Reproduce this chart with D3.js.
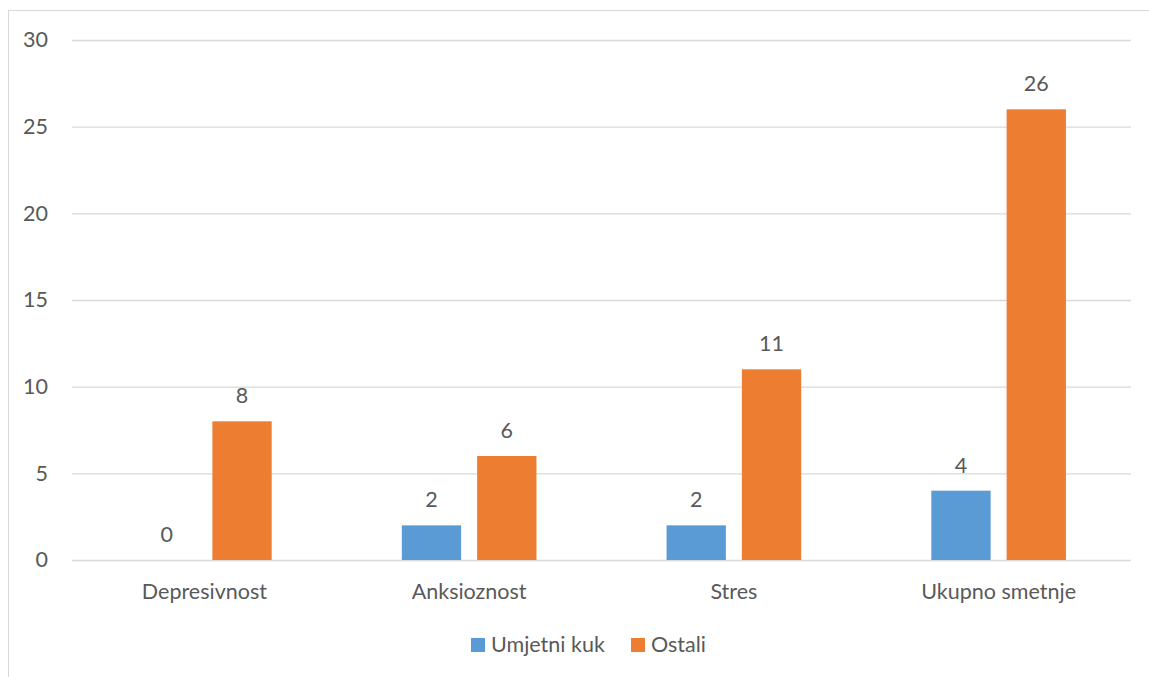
<!DOCTYPE html>
<html><head><meta charset="utf-8">
<script src="https://cdn.jsdelivr.net/npm/d3@7"></script>
<style>
html,body{margin:0;padding:0;background:#fff;}
svg text{font-family:Lato,"Open Sans",sans-serif;fill:#595959;}
</style></head>
<body><svg id="c" width="1149" height="677"></svg>
<script>
const categories = ["Depresivnost","Anksioznost","Stres","Ukupno smetnje"];
const seriesNames = ["Umjetni kuk","Ostali"];
const umjetniKuk = [0,2,2,4];
const ostali = [8,6,11,26];
const yTicks = [0,5,10,15,20,25,30];
const colors = ["#5B9BD5","#ED7D31"];

const svg = d3.select("#c");
const fs = 21.5;
svg.append("rect").attr("x",8.5).attr("y",10.5).attr("width",1160).attr("height",700)
  .attr("fill","none").attr("stroke","#D9D9D9");

const x0 = d3.scaleBand().domain(categories).range([72,1131]).paddingInner(0).paddingOuter(0);
const x1 = d3.scaleBand().domain(seriesNames).range([0,x0.bandwidth()]).paddingInner(0.2125).paddingOuter(0.864);
const y = d3.scaleLinear().domain([0,30]).range([560,40]);

const yAxis = d3.axisLeft(y).tickValues(yTicks).tickSize(-(1131-72)).tickPadding(24);
const gy = svg.append("g").attr("transform","translate(72,0)").call(yAxis);
gy.select(".domain").remove();
gy.selectAll(".tick line").attr("stroke","#D9D9D9").attr("stroke-width",1.3);
gy.selectAll(".tick text").attr("font-size",fs).attr("fill","#595959").attr("font-family","Lato");

const xAxis = d3.axisBottom(x0).tickSize(0).tickPadding(24);
const gx = svg.append("g").attr("transform","translate(0,560)").call(xAxis);
gx.select(".domain").remove();
gx.selectAll(".tick text").attr("font-size",fs).attr("fill","#595959").attr("font-family","Lato");

const data = categories.map((c,i)=>({cat:c, vals:[umjetniKuk[i], ostali[i]]}));
const groups = svg.append("g").selectAll("g").data(data).join("g")
  .attr("transform",d=>`translate(${x0(d.cat)},0)`);
groups.selectAll("rect").data(d=>d.vals.map((v,j)=>({s:seriesNames[j],v,j}))).join("rect")
  .attr("x",d=>x1(d.s)).attr("width",x1.bandwidth())
  .attr("y",d=>y(d.v)).attr("height",d=>y(0)-y(d.v))
  .attr("fill",d=>colors[d.j]);
groups.selectAll("text").data(d=>d.vals.map((v,j)=>({s:seriesNames[j],v,j}))).join("text")
  .attr("x",d=>x1(d.s)+x1.bandwidth()/2).attr("y",d=>y(d.v)-18)
  .attr("text-anchor","middle").attr("font-size",fs).text(d=>d.v);

// legend
const legX = [471,631];
const leg = svg.append("g").selectAll("g").data(seriesNames).join("g")
  .attr("transform",(d,i)=>`translate(${legX[i]},638)`);
leg.append("rect").attr("width",14).attr("height",14).attr("fill",(d,i)=>colors[i]);
leg.append("text").attr("x",20).attr("y",14).attr("font-size",fs).text(d=>d);
</script></body></html>
